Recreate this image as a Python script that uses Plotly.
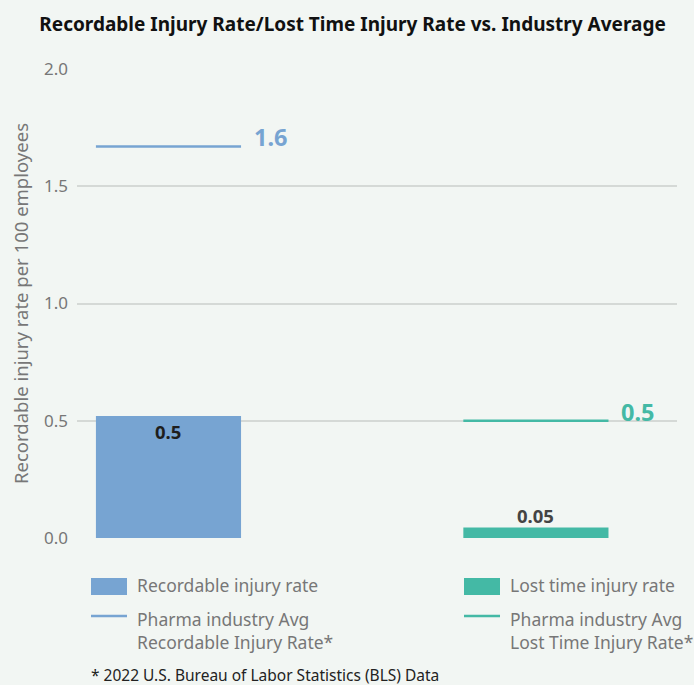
import plotly.graph_objects as go

# ---- data ----
categories = ["Recordable injury rate", "Lost time injury rate"]
bar_values = [0.52, 0.045]
bar_labels = ["0.5", "0.05"]
avg_names = ["Pharma industry Avg<br>Recordable Injury Rate*", "Pharma industry Avg<br>Lost Time Injury Rate*"]
avg_values = [1.67, 0.5]
avg_labels = ["1.6", "0.5"]
y_ticks = [0.0, 0.5, 1.0, 1.5, 2.0]
footnote = "* 2022 U.S. Bureau of Labor Statistics (BLS) Data"

# ---- style ----
colors = ["#77a4d2", "#44b9a5"]
bg = "#f2f6f3"
grey = "#777777"
FONT = "Noto Sans"
xpos = [0, 1]
bw = 0.395

fig = go.Figure()
fig.add_trace(go.Bar(
    x=xpos, y=bar_values, width=bw, marker_color=colors, marker_line_width=0,
    showlegend=False, hoverinfo="skip"))

# bar value labels: first inside near top, second above
label_cfg = [dict(yanchor="top", yshift=-1, color="#1e1e1e"),
             dict(yanchor="middle", yshift=12, color="#444444")]
for i in range(2):
    fig.add_annotation(x=xpos[i], y=bar_values[i], xref="x", yref="y", text=bar_labels[i],
                       showarrow=False, xanchor="center", yanchor=label_cfg[i]["yanchor"],
                       yshift=label_cfg[i]["yshift"],
                       font=dict(family=FONT, size=18.5, color=label_cfg[i]["color"], weight="bold"))

for i in range(2):
    fig.add_trace(go.Scatter(
        x=[xpos[i] - bw / 2, xpos[i] + bw / 2], y=[avg_values[i], avg_values[i]],
        mode="lines", line=dict(color=colors[i], width=2.5), showlegend=False, hoverinfo="skip"))
    fig.add_annotation(x=xpos[i] + bw / 2, y=avg_values[i], xref="x", yref="y",
                       text=avg_labels[i], showarrow=False, xanchor="left", yanchor="middle",
                       xshift=11, yshift=9,
                       font=dict(family=FONT, size=23.5, color=colors[i], weight="bold"))

# ---- manual legend ----
def px2x(px):
    return (px - 77) / 600.0

def px2y(py):
    return (538 - py) / 469.0

leg_cols = [91, 464]
for i in range(2):
    x0 = leg_cols[i]
    fig.add_shape(type="rect", xref="paper", yref="paper",
                  x0=px2x(x0), x1=px2x(x0 + 36), y0=px2y(578), y1=px2y(595),
                  fillcolor=colors[i], line_width=0)
    fig.add_annotation(xref="paper", yref="paper", x=px2x(x0 + 44), y=px2y(585),
                       text=categories[i], showarrow=False, xanchor="left", yanchor="middle",
                       font=dict(family=FONT, size=17.5, color=grey))
    fig.add_shape(type="line", xref="paper", yref="paper",
                  x0=px2x(x0), x1=px2x(x0 + 36), y0=px2y(616), y1=px2y(616),
                  line=dict(color=colors[i], width=2.5))
    fig.add_annotation(xref="paper", yref="paper", x=px2x(x0 + 44), y=px2y(630),
                       text=avg_names[i], showarrow=False, xanchor="left", yanchor="middle",
                       align="left",
                       font=dict(family=FONT, size=17.5, color=grey))

fig.add_annotation(xref="paper", yref="paper", x=px2x(89), y=px2y(675),
                   text=footnote, showarrow=False, xanchor="left", yanchor="middle",
                   font=dict(family=FONT, size=15.5, color="#222222"))

fig.update_layout(
    width=694, height=685,
    margin=dict(l=77, r=17, t=69, b=147),
    paper_bgcolor=bg, plot_bgcolor=bg,
    title=dict(text="<b>Recordable Injury Rate/Lost Time Injury Rate vs. Industry Average</b>",
               x=0.508, xanchor="center", y=1 - 24 / 685, yanchor="middle",
               font=dict(family=FONT, size=19, color="#111111")),
    xaxis=dict(range=[-0.249, 1.384], showgrid=False, zeroline=False, showticklabels=False,
               fixedrange=True),
    yaxis=dict(range=[0, 2.0], tickvals=y_ticks, tickformat=".1f", showgrid=True,
               gridcolor="#d5d9d6", gridwidth=1.5, zeroline=False, ticks="", ticklabelstandoff=8,
               tickfont=dict(family=FONT, size=17, color=grey),
               title=dict(text="Recordable injury rate per 100 employees", standoff=10,
                          font=dict(family=FONT, size=18.5, color=grey))),
    showlegend=False,
)

fig.write_html("out.html")
